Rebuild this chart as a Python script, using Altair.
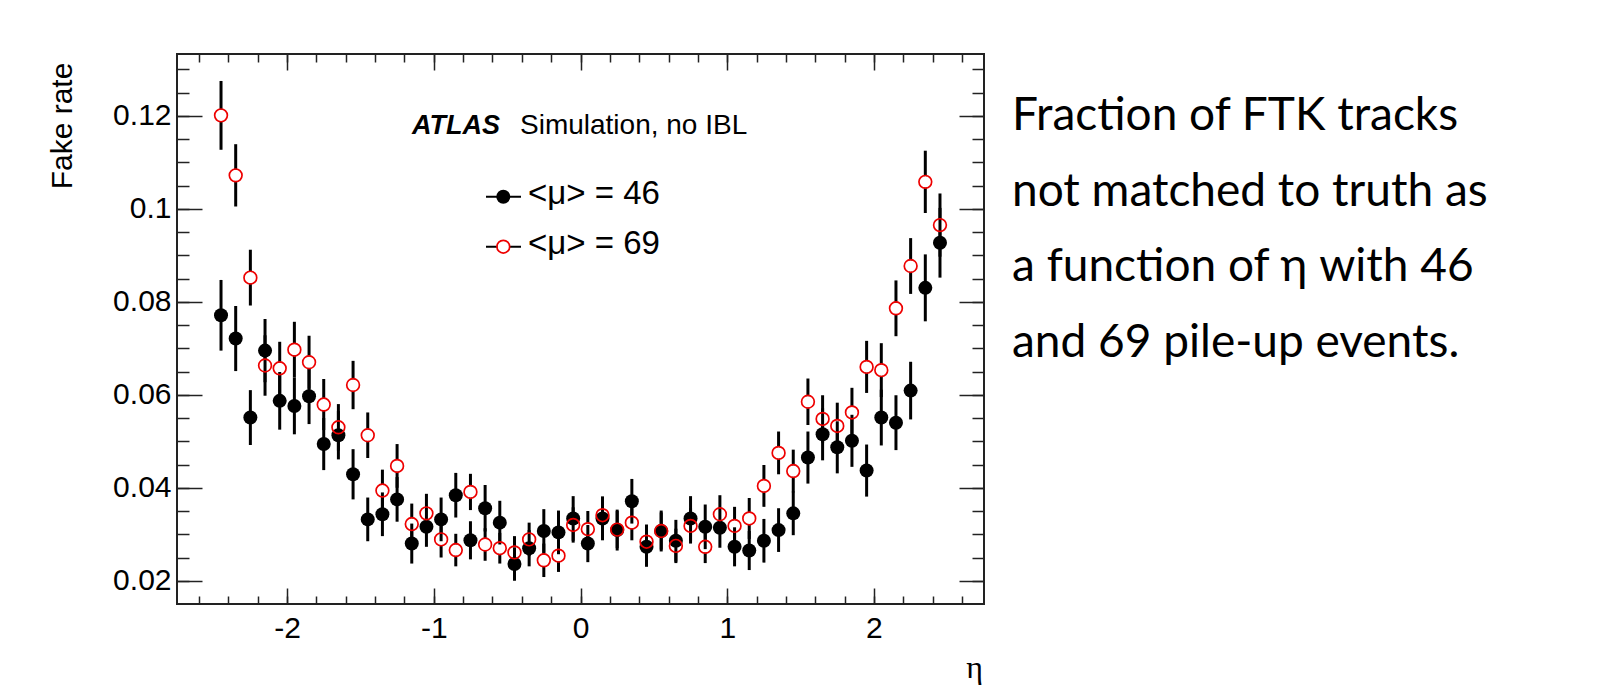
import altair as alt
import pandas as pd

# ---------------- data ----------------
eta = [-2.45, -2.35, -2.25, -2.15, -2.05, -1.95, -1.85, -1.75, -1.65, -1.55,
       -1.45, -1.35, -1.25, -1.15, -1.05, -0.95, -0.85, -0.75, -0.65, -0.55,
       -0.45, -0.35, -0.25, -0.15, -0.05, 0.05, 0.15, 0.25, 0.35, 0.45,
       0.55, 0.65, 0.75, 0.85, 0.95, 1.05, 1.15, 1.25, 1.35, 1.45,
       1.55, 1.65, 1.75, 1.85, 1.95, 2.05, 2.15, 2.25, 2.35, 2.45]

mu46_rate = [0.0771, 0.0721, 0.0551, 0.0695, 0.0587, 0.0576, 0.0597, 0.0494, 0.0513, 0.0429,
             0.0332, 0.0343, 0.0375, 0.0280, 0.0316, 0.0332, 0.0384, 0.0287, 0.0356, 0.0325,
             0.0236, 0.0270, 0.0307, 0.0304, 0.0334, 0.0280, 0.0334, 0.0309, 0.0371, 0.0273,
             0.0307, 0.0286, 0.0334, 0.0316, 0.0314, 0.0273, 0.0265, 0.0286, 0.0309, 0.0345,
             0.0465, 0.0515, 0.0487, 0.0501, 0.0437, 0.0551, 0.0540, 0.0609, 0.0830, 0.0927]
mu46_err = [0.0076, 0.0070, 0.0059, 0.0068, 0.0062, 0.0061, 0.0060, 0.0056, 0.0052, 0.0054,
            0.0047, 0.0047, 0.0048, 0.0043, 0.0043, 0.0047, 0.0048, 0.0041, 0.0050, 0.0047,
            0.0036, 0.0039, 0.0047, 0.0047, 0.0048, 0.0040, 0.0047, 0.0044, 0.0048, 0.0043,
            0.0044, 0.0045, 0.0048, 0.0048, 0.0043, 0.0042, 0.0042, 0.0047, 0.0047, 0.0047,
            0.0056, 0.0056, 0.0056, 0.0056, 0.0056, 0.0060, 0.0059, 0.0062, 0.0072, 0.0075]

mu69_rate = [0.1201, 0.1072, 0.0852, 0.0663, 0.0657, 0.0697, 0.0670, 0.0579, 0.0530, 0.0621,
             0.0513, 0.0394, 0.0447, 0.0322, 0.0345, 0.0289, 0.0266, 0.0391, 0.0278, 0.0270,
             0.0261, 0.0289, 0.0244, 0.0254, 0.0320, 0.0311, 0.0341, 0.0310, 0.0325, 0.0284,
             0.0307, 0.0275, 0.0318, 0.0273, 0.0343, 0.0318, 0.0334, 0.0404, 0.0475, 0.0436,
             0.0585, 0.0548, 0.0533, 0.0562, 0.0660, 0.0653, 0.0786, 0.0877, 0.1058, 0.0965]
mu69_err = [0.0074, 0.0067, 0.0060, 0.0065, 0.0057, 0.0060, 0.0057, 0.0055, 0.0050, 0.0052,
            0.0049, 0.0045, 0.0047, 0.0044, 0.0042, 0.0039, 0.0035, 0.0039, 0.0035, 0.0033,
            0.0035, 0.0036, 0.0036, 0.0035, 0.0038, 0.0039, 0.0040, 0.0040, 0.0038, 0.0037,
            0.0040, 0.0037, 0.0038, 0.0035, 0.0041, 0.0041, 0.0044, 0.0045, 0.0046, 0.0046,
            0.0050, 0.0051, 0.0050, 0.0053, 0.0056, 0.0058, 0.0060, 0.0060, 0.0067, 0.0068]

x_major = [-2, -1, 0, 1, 2]
x_minor = [-2.6, -2.4, -2.2, -2.0, -1.8, -1.6, -1.4, -1.2, -1.0, -0.8, -0.6, -0.4, -0.2, 0.0,
           0.2, 0.4, 0.6, 0.8, 1.0, 1.2, 1.4, 1.6, 1.8, 2.0, 2.2, 2.4, 2.6]
y_major = [0.02, 0.04, 0.06, 0.08, 0.1, 0.12]
y_minor = [0.02, 0.025, 0.03, 0.035, 0.04, 0.045, 0.05, 0.055, 0.06, 0.065, 0.07, 0.075,
           0.08, 0.085, 0.09, 0.095, 0.1, 0.105, 0.11, 0.115, 0.12, 0.125, 0.13]

legend_labels = ["<μ> = 46", "<μ> = 69"]
header_bold = "ATLAS"
header_rest = "Simulation, no IBL"
y_title = "Fake rate"
x_title = "η"
caption_lines = ["Fraction of FTK tracks", "not matched to truth as",
                 "a function of η with 46", "and 69 pile-up events."]

# ---------------- layout ----------------
W, H = 807, 550
XDOM = [-2.75, 2.75]
YDOM = [0.015, 0.1333]
SANS = "Liberation Sans"
RED = "#ee0000"
S_BLK, S_RED, S_BG = 196, 162, 138

df46 = pd.DataFrame({"eta": eta, "rate": mu46_rate,
                     "lo": [v - e for v, e in zip(mu46_rate, mu46_err)],
                     "hi": [v + e for v, e in zip(mu46_rate, mu46_err)]})
df69 = pd.DataFrame({"eta": eta, "rate": mu69_rate,
                     "lo": [v - e for v, e in zip(mu69_rate, mu69_err)],
                     "hi": [v + e for v, e in zip(mu69_rate, mu69_err)]})

xs = alt.Scale(domain=XDOM, nice=False, zero=False)
ys = alt.Scale(domain=YDOM, nice=False, zero=False)


def tick_axis(orient, values, size, offset):
    return alt.Axis(orient=orient, offset=offset, values=values, ticks=True, tickSize=size,
                    tickWidth=1.5, tickColor="#222222", labels=False, domain=False,
                    grid=False, title=None)


ax_x_lab = alt.Axis(orient="bottom", values=x_major, ticks=False, domain=False, grid=False,
                    labelFont=SANS, labelFontSize=30, labelColor="black", labelPadding=9,
                    labelExpr="datum.value", labelOverlap=False, title=None)
ax_y_lab = alt.Axis(orient="left", values=y_major, ticks=False, domain=False, grid=False,
                    labelFont=SANS, labelFontSize=30, labelColor="black", labelPadding=6,
                    labelExpr="datum.value", labelOverlap=False, title=None)

ax_x_bmaj = tick_axis("top", x_major, 16, -H)
ax_x_bmin = tick_axis("top", x_minor, 8, -H)
ax_x_tmaj = tick_axis("bottom", x_major, 16, -H)
ax_x_tmin = tick_axis("bottom", x_minor, 8, -H)
ax_y_lmaj = tick_axis("right", y_major, 25, -W)
ax_y_lmin = tick_axis("right", y_minor, 12, -W)
ax_y_rmaj = tick_axis("left", y_major, 25, -W)
ax_y_rmin = tick_axis("left", y_minor, 12, -W)

l_red_err = alt.Chart(df69).mark_rule(color="black", strokeWidth=3).encode(
    x=alt.X("eta:Q", scale=xs, axis=ax_x_lab),
    y=alt.Y("lo:Q", scale=ys, axis=ax_y_lab),
    y2="hi:Q")
l_red_bg = alt.Chart(df69).mark_point(filled=True, shape="circle", size=S_BG, color="white",
                                      opacity=1).encode(
    x=alt.X("eta:Q", scale=xs, axis=ax_x_bmaj),
    y=alt.Y("rate:Q", scale=ys, axis=ax_y_lmaj))
l_blk_err = alt.Chart(df46).mark_rule(color="black", strokeWidth=3).encode(
    x=alt.X("eta:Q", scale=xs, axis=ax_x_bmin),
    y=alt.Y("lo:Q", scale=ys, axis=ax_y_lmin),
    y2="hi:Q")
l_blk_pt = alt.Chart(df46).mark_point(filled=True, shape="circle", size=S_BLK, color="black",
                                      opacity=1).encode(
    x=alt.X("eta:Q", scale=xs, axis=ax_x_tmaj),
    y=alt.Y("rate:Q", scale=ys, axis=ax_y_rmaj))
l_red_pt = alt.Chart(df69).mark_point(filled=False, shape="circle", size=S_RED, stroke=RED,
                                      strokeWidth=1.7, opacity=1).encode(
    x=alt.X("eta:Q", scale=xs, axis=ax_x_tmin),
    y=alt.Y("rate:Q", scale=ys, axis=ax_y_rmin))

one = pd.DataFrame({"k": [0]})

t_atlas = alt.Chart(one).mark_text(font=SANS, fontSize=27, fontWeight="bold", fontStyle="italic",
                                   align="left", baseline="alphabetic", color="black").encode(
    x=alt.value(235), y=alt.value(80), text=alt.value(header_bold))
t_sim = alt.Chart(one).mark_text(font=SANS, fontSize=28, align="left", baseline="alphabetic",
                                 color="black").encode(
    x=alt.value(343), y=alt.value(80), text=alt.value(header_rest))

leg_line1 = alt.Chart(one).mark_rule(color="black", strokeWidth=2).encode(
    x=alt.value(309), x2=alt.value(344), y=alt.value(142.7))
leg_line2 = alt.Chart(one).mark_rule(color="black", strokeWidth=2).encode(
    x=alt.value(309), x2=alt.value(344), y=alt.value(192.7))
leg_pt1 = alt.Chart(one).mark_point(filled=True, shape="circle", size=S_BLK, color="black",
                                    opacity=1).encode(x=alt.value(326.3), y=alt.value(142.7))
leg_bg2 = alt.Chart(one).mark_point(filled=True, shape="circle", size=S_BG, color="white",
                                    opacity=1).encode(x=alt.value(326.3), y=alt.value(192.7))
leg_pt2 = alt.Chart(one).mark_point(filled=False, shape="circle", size=S_RED, stroke=RED,
                                    strokeWidth=1.7, opacity=1).encode(
    x=alt.value(326.3), y=alt.value(192.7))
leg_t1 = alt.Chart(one).mark_text(font=SANS, fontSize=33, align="left", baseline="alphabetic",
                                  color="black").encode(
    x=alt.value(351), y=alt.value(150), text=alt.value(legend_labels[0]))
leg_t2 = alt.Chart(one).mark_text(font=SANS, fontSize=33, align="left", baseline="alphabetic",
                                  color="black").encode(
    x=alt.value(351), y=alt.value(200), text=alt.value(legend_labels[1]))

t_ytitle = alt.Chart(one).mark_text(font=SANS, fontSize=30, angle=270, align="center",
                                    baseline="middle", color="black").encode(
    x=alt.value(-114), y=alt.value(72), text=alt.value(y_title))
t_xtitle = alt.Chart(one).mark_text(font="Liberation Serif", fontSize=32, align="right",
                                    baseline="alphabetic", color="black").encode(
    x=alt.value(806), y=alt.value(624), text=alt.value(x_title))

t_caption = alt.Chart(one).mark_text(font="Lato", fontSize=46, align="left",
                                     baseline="alphabetic", color="black",
                                     lineBreak="\n", lineHeight=75.5).encode(
    x=alt.value(835), y=alt.value(76), text=alt.value("\n".join(caption_lines)))

chart = alt.layer(
    l_red_err, l_red_bg, l_blk_err, l_blk_pt, l_red_pt,
    t_atlas, t_sim, leg_line1, leg_line2, leg_pt1, leg_bg2, leg_pt2, leg_t1, leg_t2,
    t_ytitle, t_xtitle, t_caption,
).resolve_axis(x="independent", y="independent").properties(
    width=W, height=H,
    padding={"left": 177, "top": 54, "right": 615, "bottom": 82},
    autosize=alt.AutoSizeParams(type="none"),
    background="white",
).configure_view(stroke="#222222", strokeWidth=2)

chart.save("out.html", embed_options={"renderer": "svg", "actions": False})
